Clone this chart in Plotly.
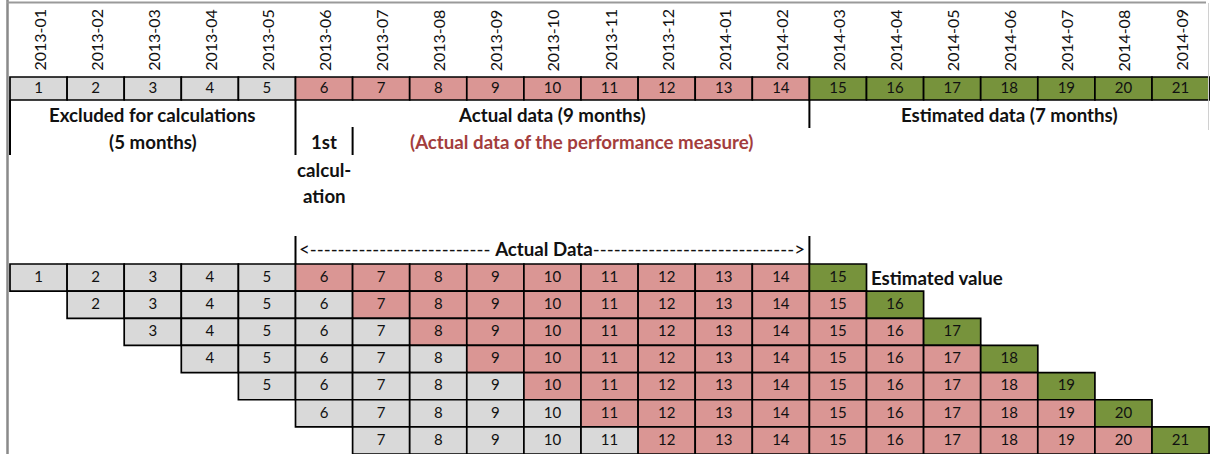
import plotly.graph_objects as go

# ---------------- data ----------------
months = ["2013-01", "2013-02", "2013-03", "2013-04", "2013-05", "2013-06", "2013-07",
          "2013-08", "2013-09", "2013-10", "2013-11", "2013-12", "2014-01", "2014-02",
          "2014-03", "2014-04", "2014-05", "2014-06", "2014-07", "2014-08", "2014-09"]
period_numbers = list(range(1, 22))
period_status = ["excluded"] * 5 + ["actual"] * 9 + ["estimated"] * 7

# rolling calculation windows (one per row of the lower grid)
window_first = [1, 2, 3, 4, 5, 6, 7]          # first period shown in the row
window_actual_from = [6, 7, 8, 9, 10, 11, 12]  # first period used as actual data
window_estimate = [15, 16, 17, 18, 19, 20, 21]  # period estimated by that window

section_labels = ["Excluded for calculations", "Actual data (9 months)", "Estimated data (7 months)"]
section_sub = ["(5 months)", "(Actual data of the performance measure)"]

# ---------------- style / layout ----------------
W, H = 1210, 454
LEFT = 10.0
COLW = 57.1
FONT = "Lato"
COLORS = {"excluded": "#D9D9D9", "actual": "#DA9694", "estimated": "#77933C"}
TXT = "#111111"
RED = "#A33D3D"
LBL = 18.7
NUM = 15
DATE = 16

TOP_ROW = (77, 100)
GRID_TOP = 264.0
ROW_H = 27.15

fig = go.Figure()
shapes = []
annotations = []

def cell(col, y0, y1, color):
    shapes.append(dict(type="rect", xref="x", yref="y", x0=col - 0.5, x1=col + 0.5,
                       y0=y0, y1=y1, fillcolor=color,
                       line=dict(color="black", width=1.7), layer="below"))

# top row
for n, st in zip(period_numbers, period_status):
    cell(n, TOP_ROW[0], TOP_ROW[1], COLORS[st])
fig.add_trace(go.Scatter(x=period_numbers, y=[(TOP_ROW[0] + TOP_ROW[1]) / 2 + 0.5] * len(period_numbers),
                         text=[str(n) for n in period_numbers], mode="text",
                         textfont=dict(family=FONT, size=NUM, color=TXT),
                         hoverinfo="skip", showlegend=False))

# month labels
for n, m in zip(period_numbers, months):
    annotations.append(dict(x=n, y=73, xref="x", yref="y", text=m, textangle=-90,
                            showarrow=False, xanchor="center", yanchor="bottom",
                            font=dict(family=FONT, size=DATE, color=TXT)))

# lower grid
gx, gy, gt = [], [], []
for r, (first, afrom, est) in enumerate(zip(window_first, window_actual_from, window_estimate)):
    y0 = GRID_TOP + r * ROW_H
    y1 = y0 + ROW_H
    for n in range(first, est + 1):
        if n == est:
            c = COLORS["estimated"]
        elif n >= afrom:
            c = COLORS["actual"]
        else:
            c = COLORS["excluded"]
        cell(n, y0, y1, c)
        gx.append(n)
        gy.append((y0 + y1) / 2 + 0.5)
        gt.append(str(n))
fig.add_trace(go.Scatter(x=gx, y=gy, text=gt, mode="text",
                         textfont=dict(family=FONT, size=NUM, color=TXT),
                         hoverinfo="skip", showlegend=False))

# section boundaries
n_ex = period_status.count("excluded")
n_ac = period_status.count("actual")
n_es = period_status.count("estimated")
b_start = 0.5
b_actual = n_ex + 0.5
b_est = n_ex + n_ac + 0.5
b_end = n_ex + n_ac + n_es + 0.5

def vline(x, y0, y1, color="black", width=2):
    shapes.append(dict(type="line", xref="x", yref="y", x0=x, x1=x, y0=y0, y1=y1,
                       line=dict(color=color, width=width)))

vline(b_start, 100, 155)
vline(b_actual, 100, 155)
vline(b_actual + 1, 127, 155)
vline(b_est, 100, 128)
vline(b_actual, 236, 264)
vline(b_est, 236, 264)

def txt(x, y, s, size=LBL, color=TXT, bold=True, xanchor="center"):
    annotations.append(dict(x=x, y=y, xref="x", yref="y",
                            text=("<b>%s</b>" % s) if bold else s, showarrow=False,
                            xanchor=xanchor, yanchor="middle",
                            font=dict(family=FONT, size=size, color=color)))

txt((b_start + b_actual) / 2, 115, section_labels[0])
txt((b_start + b_actual) / 2, 142, section_sub[0])
txt((b_actual + b_est) / 2, 115, section_labels[1])
txt((b_actual + 1 + b_est) / 2, 142, section_sub[1], color=RED)
txt((b_est + b_end) / 2, 115, section_labels[2])
txt(b_actual + 0.5, 142, "1st")
txt(b_actual + 0.5, 170, "calcul-")
txt(b_actual + 0.5, 196, "ation")
txt((b_actual + b_est) / 2, 249,
    "<" + "-" * 26 + " <b>Actual Data</b>" + "-" * 29 + ">", size=LBL, bold=False)
txt(window_estimate[0] + 0.5 + 0.05, GRID_TOP + ROW_H / 2, "Estimated value", xanchor="left")

# outer frame (paper coords)
shapes.append(dict(type="line", xref="paper", yref="paper", x0=7.5 / W, x1=7.5 / W, y0=0, y1=1,
                   line=dict(color="#8a8a8a", width=2.5)))
shapes.append(dict(type="line", xref="paper", yref="paper", x0=7 / W, x1=1206 / W,
                   y0=1 - 2.5 / H, y1=1 - 2.5 / H, line=dict(color="#9a9a9a", width=2)))
shapes.append(dict(type="line", xref="paper", yref="paper", x0=1208.5 / W, x1=1208.5 / W,
                   y0=1 - 3 / H, y1=1 - 130 / H, line=dict(color="#d0d0d0", width=1)))

xr0 = 0.5 - LEFT / COLW
xr1 = xr0 + W / COLW
fig.update_layout(
    width=W, height=H, margin=dict(l=0, r=0, t=0, b=0),
    paper_bgcolor="white", plot_bgcolor="white",
    xaxis=dict(range=[xr0, xr1], visible=False, fixedrange=True),
    yaxis=dict(range=[H, 0], visible=False, fixedrange=True),
    shapes=shapes, annotations=annotations, showlegend=False,
)
fig.write_html("out.html", config={"displayModeBar": False},
               post_script="document.body.style.margin='0';document.body.style.padding='0';")
